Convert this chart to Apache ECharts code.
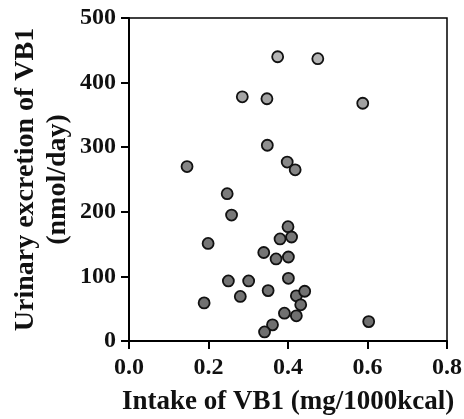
<!DOCTYPE html>
<html>
<head>
<meta charset="utf-8">
<script src="https://cdn.jsdelivr.net/npm/echarts@6/dist/echarts.min.js"></script>
<style>html,body{margin:0;padding:0;background:#fff}#c{width:464px;height:419px}</style>
</head>
<body>
<div id="c"></div>
<script>
var intake = [0.374,0.475,0.285,0.347,0.588,0.348,0.146,0.398,0.418,0.247,0.258,0.400,0.380,0.409,0.199,0.339,0.370,0.401,0.401,0.250,0.301,0.350,0.280,0.421,0.442,0.189,0.432,0.391,0.421,0.603,0.361,0.341];
var excretion = [440,437,378,375,368,303,270,277,265,228,195,177,158,161,151,137,127,130,97,93,93,78,69,70,77,59,56,43,39,30,25,14];
var xTicks = ['0.0','0.2','0.4','0.6','0.8'];
var yTicks = ['0','100','200','300','400','500'];
var xTitle = 'Intake of VB1 (mg/1000kcal)';
var yTitle = 'Urinary excretion of VB1\n(nmol/day)';

var pts = intake.map(function(x,i){return [x, excretion[i]];});
var font = 'Liberation Serif';
var chart = echarts.init(document.getElementById('c'));
chart.setOption({
  backgroundColor:'#fff',
  animation:false,
  grid:{left:129,right:17,top:18,bottom:78,containLabel:false,outerBoundsMode:'none',show:true,borderColor:'#000',borderWidth:1.5,backgroundColor:'transparent'},
  visualMap:{show:false,type:'continuous',dimension:1,min:0,max:450,inRange:{color:['#6e6e6e','#7a7a7a','#b8b8b8']}},
  xAxis:{type:'value',min:0,max:0.8,interval:0.2,
    name:xTitle,nameLocation:'middle',nameGap:48,nameMoveOverlap:false,
    nameTextStyle:{fontFamily:font,fontWeight:'bold',fontSize:27,color:'#111'},
    axisLine:{show:true,lineStyle:{color:'#000',width:2}},
    axisTick:{show:true,inside:false,length:8,lineStyle:{color:'#000',width:2}},
    splitLine:{show:false},
    axisLabel:{margin:15,fontFamily:font,fontWeight:'bold',fontSize:24,color:'#111',
      formatter:function(v){var i=Math.round(v/0.2);return xTicks[i]!==undefined?xTicks[i]:'';}}
  },
  yAxis:{type:'value',min:0,max:500,interval:100,
    name:yTitle,nameLocation:'middle',nameRotate:90,nameGap:55,nameMoveOverlap:false,
    nameTextStyle:{fontFamily:font,fontWeight:'bold',fontSize:28,color:'#111',lineHeight:32},
    axisLine:{show:true,lineStyle:{color:'#000',width:2}},
    axisTick:{show:true,inside:false,length:8,lineStyle:{color:'#000',width:2}},
    splitLine:{show:false},
    axisLabel:{margin:13,fontFamily:font,fontWeight:'bold',fontSize:24,color:'#111',
      formatter:function(v){var i=Math.round(v/100);return yTicks[i]!==undefined?yTicks[i]:'';}}
  },
  series:[{type:'scatter',data:pts,symbol:'circle',symbolSize:11,
    itemStyle:{borderColor:'#111',borderWidth:1.8,opacity:1}}]
});
</script>
</body>
</html>
